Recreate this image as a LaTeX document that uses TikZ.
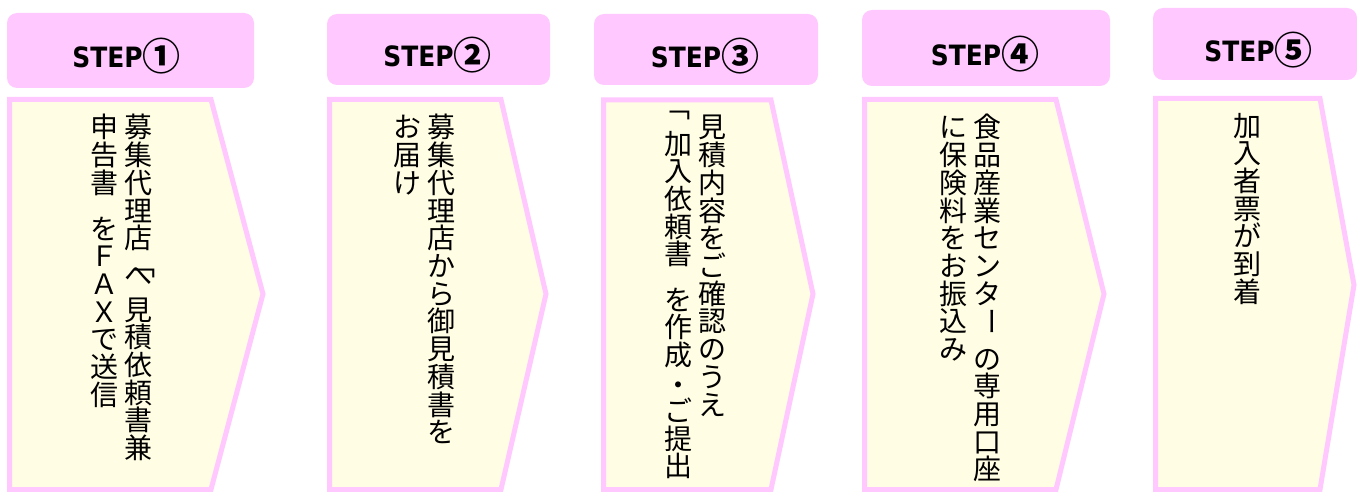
\documentclass[tikz,border=0pt]{standalone}
\usepackage{fontspec}
\newfontfamily\cjk{Noto Sans CJK JP}
\newfontfamily\stepfont[FakeStretch=0.89]{DejaVu Sans}
\definecolor{hdr}{HTML}{FFC8FF}
\definecolor{brd}{HTML}{FFC8FF}
\definecolor{cream}{HTML}{FFFDE3}
\tikzset{
  hdrbox/.style={fill=hdr, draw=none, rounded corners=10pt},
  arrowbox/.style={fill=cream, draw=brd, line width=5pt, line join=miter},
  vch/.style={font=\cjk\fontsize{28pt}{28pt}\selectfont, inner sep=0pt, anchor=base, text=black},
  steplbl/.style={font=\stepfont\bfseries\fontsize{28pt}{28pt}\selectfont, inner sep=0pt, text=black}
}
\newcommand\circd[1]{{\cjk\fontsize{38pt}{38pt}\selectfont\raisebox{-3pt}{#1}}}
\newcommand\vcolumn[4]{%
  \foreach \ch [count=\k from 0] in {#4}{%
    \node[vch] (#1-\k) at (#2, {#3 + 23 + \k*27.7}) {\ch};
  }%
}
\begin{document}
\begin{tikzpicture}[x=1pt, y=-1pt]
\useasboundingbox (0,0) rectangle (1357,492);
% headers
\path[hdrbox] (7,13) rectangle (254,88);
\path[hdrbox] (327,14) rectangle (550,85);
\path[hdrbox] (594,14) rectangle (818,85);
\path[hdrbox] (862,10) rectangle (1110,86);
\path[hdrbox] (1153,8) rectangle (1357,80);
\node[steplbl] (h1) at (126.5,56) {STEP\circd{①}};
\node[steplbl] (h2) at (437.5,55) {STEP\circd{②}};
\node[steplbl] (h3) at (705,56) {STEP\circd{③}};
\node[steplbl] (h4) at (985,54) {STEP\circd{④}};
\node[steplbl] (h5) at (1258.5,50) {STEP\circd{⑤}};
% arrow boxes
\draw[arrowbox] (9.5,99.5) -- (211,99.5) -- (263,294) -- (211,489.5) -- (9.5,489.5) -- cycle;
\draw[arrowbox] (329.5,99.5) -- (501,99.5) -- (546,294) -- (501,489.5) -- (329.5,489.5) -- cycle;
\draw[arrowbox] (603.5,100) -- (771,100) -- (813,294) -- (771,489.5) -- (603.5,489.5) -- cycle;
\draw[arrowbox] (864.5,99.5) -- (1056,99.5) -- (1104,294) -- (1056,489.5) -- (864.5,489.5) -- cycle;
\draw[arrowbox] (1155.5,98.5) -- (1320,98.5) -- (1354,285) -- (1320,489.5) -- (1155.5,489.5) -- cycle;
% step 1
\vcolumn{s1a}{138}{115}{募,集,代,理,店}
\vcolumn{s1b}{138}{262}{へ}
\node[vch, anchor=center] (s1br) at (141,273.5) {﹁};
\vcolumn{s1c}{138}{297}{見,積,依,頼,書,兼}
\vcolumn{s1d}{104}{115}{申,告,書}
\vcolumn{s1e}{104}{216}{を,Ｆ,Ａ,Ｘ,で,送,信}
% step 2
\vcolumn{s2a}{441}{115}{募,集,代,理,店,か,ら,御,見,積,書,を}
\vcolumn{s2b}{407}{115}{お,届,け}
% step 3
\vcolumn{s3a}{712}{115}{見,積,内,容,を,ご,確,認,の,う,え}
\node[vch, anchor=center] (s3br) at (676,115) {﹁};
\vcolumn{s3b}{678}{131}{加,入,依,頼,書}
\vcolumn{s3c}{678}{287}{を,作,成}
\node[vch, anchor=center] (s3dot) at (678,389) {・};
\vcolumn{s3d}{678}{398.5}{ご,提,出}
% step 4
\vcolumn{s4a}{987}{115}{食,品,産,業,セ,ン,タ}
\node[vch, anchor=center, rotate=-90] (s4bar) at (988,321) {ー};
\vcolumn{s4b}{987}{346}{の,専,用,口,座}
\vcolumn{s4c}{953}{115}{に,保,険,料,を,お,振,込,み}
% step 5
\vcolumn{s5}{1247}{113}{加,入,者,票,が,到,着}
\end{tikzpicture}
\end{document}
